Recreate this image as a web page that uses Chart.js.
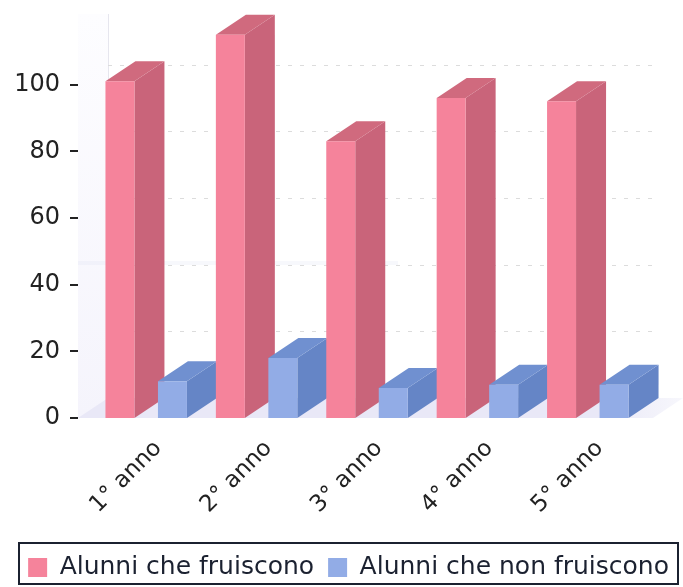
<!DOCTYPE html>
<html>
<head>
<meta charset="utf-8">
<script src="https://cdn.jsdelivr.net/npm/chart.js@4"></script>
<style>
html, body { margin: 0; padding: 0; background: #fff; }
#wrap { width: 683px; height: 587px; }
</style>
</head>
<body>
<div id="wrap"><canvas id="canvasAlunni"></canvas></div>
<script>
var categories = ["1° anno", "2° anno", "3° anno", "4° anno", "5° anno"];
var fruiscono = [101, 115, 83, 96, 95];
var nonFruiscono = [11, 18, 9, 10, 10];
var yTicks = [0, 20, 40, 60, 80, 100];

var depthX = 30;
var depthY = 20;
var wallLeft = 78;
var frameLeft = 18;
var frameRight = 679;
var fontName = "'DejaVu Sans'";
var shades = [
    { top: "#d06a7e", side: "#c9647a" },
    { top: "#7090d0", side: "#6585c6" }
];

// back wall, floor and the dashed lines behind the bars
var wallPlugin = {
    id: "wall",
    beforeDatasetsDraw: function(chart) {
        var c = chart.ctx, area = chart.chartArea, y = chart.scales.y;
        var y0 = y.getPixelForValue(0);
        c.save();

        var wall = c.createLinearGradient(0, 14, 0, y0);
        wall.addColorStop(0, "#fdfdff");
        wall.addColorStop(1, "#f5f4fc");
        c.fillStyle = wall;
        c.fillRect(wallLeft, 14, depthX, y0 - 14);

        var floor = c.createLinearGradient(600, 0, 683, 0);
        floor.addColorStop(0, "#e9e8f7");
        floor.addColorStop(1, "#f7f7fc");
        c.fillStyle = floor;
        c.beginPath();
        c.moveTo(wallLeft, y0);
        c.lineTo(wallLeft + depthX, y0 - depthY);
        c.lineTo(683, y0 - depthY);
        c.lineTo(683 - depthX, y0);
        c.fill();

        // faint band across the wall
        c.fillStyle = "rgba(215,218,240,0.2)";
        c.fillRect(wallLeft, 261, 320, 4);

        c.strokeStyle = "#e6e6ee";
        c.lineWidth = 1;
        c.beginPath();
        c.moveTo(wallLeft + depthX + 0.5, 14);
        c.lineTo(wallLeft + depthX + 0.5, y0 - depthY);
        c.stroke();

        c.setLineDash([4, 8]);
        c.strokeStyle = "#dcdcdc";
        yTicks.forEach(function(v) {
            if (v === 0) return;
            var py = Math.round(y.getPixelForValue(v) - depthY) + 0.5;
            c.beginPath();
            c.moveTo(wallLeft + depthX, py);
            c.lineTo(area.right + depthX - 14, py);
            c.stroke();
        });
        c.restore();

        // side and top faces, left to right, the library paints the fronts over them
        for (var i = 0; i < categories.length; i++) {
            for (var d = 0; d < chart.data.datasets.length; d++) {
                drawDepth(c, chart.getDatasetMeta(d).data[i], shades[d]);
            }
        }
    },
    afterDatasetsDraw: function(chart) {
        var c = chart.ctx, y = chart.scales.y;
        // tick marks stand away from the bars
        c.save();
        c.strokeStyle = "#222";
        c.lineWidth = 2;
        yTicks.forEach(function(v) {
            var py = Math.round(y.getPixelForValue(v));
            c.beginPath();
            c.moveTo(wallLeft - 8, py);
            c.lineTo(wallLeft, py);
            c.stroke();
        });
        // frame round the legend
        var l = chart.legend;
        c.strokeStyle = "#1b2130";
        c.lineWidth = 2;
        c.strokeRect(frameLeft + 1, l.top + 2, frameRight - frameLeft - 2, l.height - 3);
        c.restore();
    }
};

function drawDepth(c, bar, shade) {
    var left = bar.x - bar.width / 2;
    var right = bar.x + bar.width / 2;
    c.fillStyle = shade.side;
    c.beginPath();
    c.moveTo(right, bar.base);
    c.lineTo(right + depthX, bar.base - depthY);
    c.lineTo(right + depthX, bar.y - depthY);
    c.lineTo(right, bar.y);
    c.fill();
    c.fillStyle = shade.top;
    c.beginPath();
    c.moveTo(left, bar.y);
    c.lineTo(left + depthX, bar.y - depthY);
    c.lineTo(right + depthX, bar.y - depthY);
    c.lineTo(right, bar.y);
    c.fill();
}

var chart = new Chart(document.getElementById("canvasAlunni").getContext("2d"), {
    type: "bar",
    data: {
        labels: categories,
        datasets: [
            { label: "Alunni che fruiscono", data: fruiscono, backgroundColor: "#f5839b" },
            { label: "Alunni che non fruiscono", data: nonFruiscono, backgroundColor: "#92ace6" }
        ]
    },
    options: {
        responsive: true,
        maintainAspectRatio: false,
        animation: false,
        categoryPercentage: 0.951,
        barPercentage: 0.552,
        layout: { padding: { left: 0, right: 0, top: 18, bottom: 2 } },
        plugins: {
            title: { display: false },
            tooltip: { enabled: false },
            legend: {
                position: "bottom",
                align: "end",
                maxHeight: 44,
                labels: {
                    boxWidth: 19,
                    boxHeight: 19,
                    padding: 14,
                    color: "#1b2130",
                    font: { family: fontName, size: 25 }
                }
            }
        },
        scales: {
            x: {
                grid: { display: false },
                border: { display: false },
                afterFit: function(s) { s.height = 123; },
                ticks: {
                    autoSkip: false,
                    minRotation: 45,
                    maxRotation: 45,
                    padding: 9,
                    labelOffset: 12,
                    color: "#222",
                    font: { family: fontName, size: 23 }
                }
            },
            y: {
                min: 0,
                max: 120,
                grid: { display: false, drawTicks: false },
                border: { display: false },
                afterFit: function(s) {
                    s.width = 91;
                    s.paddingTop = 0;
                    s.paddingBottom = 0;
                },
                afterBuildTicks: function(s) {
                    s.ticks = yTicks.map(function(v) { return { value: v }; });
                },
                ticks: {
                    padding: 31,
                    color: "#222",
                    font: { family: fontName, size: 24 }
                }
            },
            spare: {
                position: "right",
                grid: { display: false },
                border: { display: false },
                ticks: { display: false },
                afterFit: function(s) { s.width = 40; }
            }
        }
    },
    plugins: [wallPlugin]
});
</script>
</body>
</html>
